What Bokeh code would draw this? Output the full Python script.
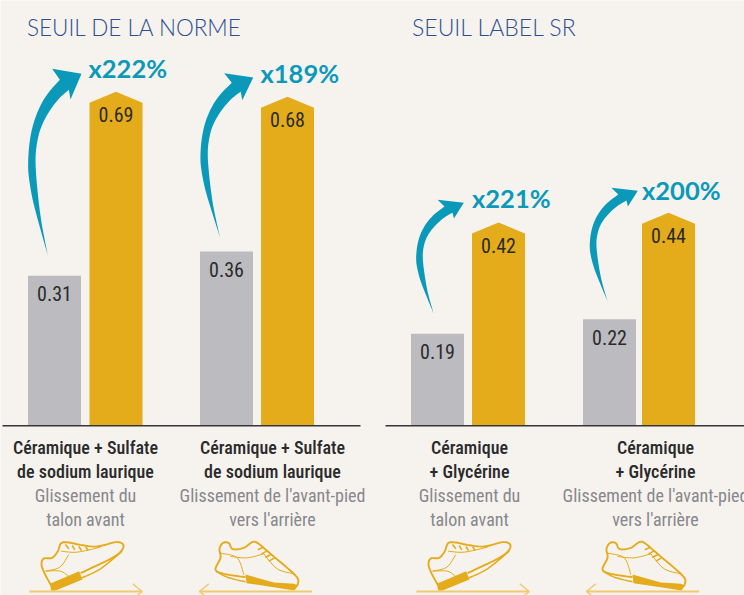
from bokeh.plotting import figure
from bokeh.models import Range1d
from bokeh.core.properties import value
from bokeh.embed import file_html
from bokeh.resources import INLINE
import numpy as np

# ---- data ----
titles = ["SEUIL DE LA NORME", "SEUIL LABEL SR"]
base_values = [0.31, 0.36, 0.19, 0.22]
treated_values = [0.69, 0.68, 0.42, 0.44]
gains = ["x222%", "x189%", "x221%", "x200%"]
label_top = [["Céramique + Sulfate", "de sodium laurique"], ["Céramique + Sulfate", "de sodium laurique"],
             ["Céramique", "+ Glycérine"], ["Céramique", "+ Glycérine"]]
label_sub = [["Glissement du", "talon avant"], ["Glissement de l'avant-pied", "vers l'arrière"],
             ["Glissement du", "talon avant"], ["Glissement de l'avant-pied", "vers l'arrière"]]

# ---- layout ----
W, H = 744, 595
BASE_PX, PX_PER_UNIT = 425.3, 484.0
BG, GOLD, GREY, TEAL, PALE = "#f6f3ef", "#e4ab1a", "#bcbbc0", "#0a99b9", "#f0ca70"
NARROW = "Roboto Condensed"
def yv(px):
    return (BASE_PX - np.asarray(px, dtype=float)) / PX_PER_UNIT

grey_left = [27.5, 199.5, 410.5, 582.5]
gold_left = [89, 260.5, 471.5, 641.5]
bar_w = 53
label_cx = [85, 272, 469, 655]
gain_pos = [(88, 67.5), (260, 72.5), (471.5, 197.5), (641.5, 189.5)]
arrow_box = [(27.7, 81, 68.3, 255), (200, 252.7, 72.7, 236.7), (415.7, 463.3, 199.3, 313.3), (589.3, 637.3, 187.3, 300.7)]

p = figure(width=W, height=H, x_range=Range1d(0, W), y_range=Range1d(float(yv(H)), float(yv(0))),
           output_backend="svg", toolbar_location=None, background_fill_color=BG, border_fill_color=BG,
           min_border=0, outline_line_color=None)
p.axis.visible = False
p.grid.visible = False

# bars
gx = np.array(grey_left)
p.quad(left=gx, right=gx + bar_w, bottom=0, top=base_values, fill_color=GREY, line_color=None)
xs, ys = [], []
for l, v in zip(gold_left, treated_values):
    sh = v - 11 / PX_PER_UNIT
    xs.append([l, l, l + bar_w / 2, l + bar_w, l + bar_w])
    ys.append([0, sh, v, sh, 0])
p.patches(xs, ys, fill_color=GOLD, line_color=None)

# baseline
p.segment([2, 385], [0, 0], [360, 744], [0, 0], line_color="#35353a", line_width=1.5)

# value labels
def labels(x, y, txt, size, color, font=NARROW, style="normal", align="center", yoff=0):
    p.text(x=x, y=y, text=txt, text_font=value(font), text_font_size=size, text_color=color,
           text_align=align, text_baseline="middle", text_font_style=style, y_offset=yoff)

labels(gx + bar_w / 2, base_values, [f"{v:.2f}" for v in base_values], "20px", "#2b2b2b", yoff=18)
labels(np.array(gold_left) + bar_w / 2, treated_values, [f"{v:.2f}" for v in treated_values], "20px", "#2b2b2b", yoff=23)

# titles
labels([26.5], yv([26.5]), titles[:1], "22.5px", "#2d4f90", font="Lato Light", align="left")
labels([411.5], yv([26.5]), titles[1:], "23px", "#2d4f90", font="Lato Light", align="left")

# gains
labels([g[0] for g in gain_pos], yv([g[1] for g in gain_pos]), gains, "25.5px", TEAL, font="Lato", style="bold", align="left")

# category text
for cx, top, sub in zip(label_cx, label_top, label_sub):
    labels([cx, cx], yv([446.5, 470.5]), top, "18px", "#2b2b2b", font="Roboto Condensed Medium")
    labels([cx, cx], yv([494.5, 518.5]), sub, "18px", "#87878c")

# curved arrows
def spline(pts, n=10):
    P = np.array([pts[0]] + pts + [pts[-1]], dtype=float)
    out = []
    for i in range(1, len(P) - 2):
        for t in np.linspace(0, 1, n, endpoint=False):
            a, b, c, d = P[i - 1], P[i], P[i + 1], P[i + 2]
            out.append(0.5 * (2 * b + (c - a) * t + (2 * a - 5 * b + 4 * c - d) * t ** 2 + (3 * b - a - 3 * c + d) * t ** 3))
    out.append(P[-2])
    return np.array(out)

outer = [(142, 765), (118, 680), (97, 600), (85, 530), (83, 480), (88, 420), (100, 365), (120, 315), (145, 275), (178, 238)]
inner = [(205, 268), (175, 295), (145, 335), (122, 380), (110, 425), (105, 480), (110, 560), (122, 660), (142, 765)]
tip = [(155, 205), (243, 220), (210, 297)]
shape = np.vstack([spline(outer), np.array(tip, dtype=float), spline(inner)])
sx = (shape[:, 0] - 83) / 160
sy = (shape[:, 1] - 205) / 560
for x0, x1, y0, y1 in arrow_box:
    p.patch(x0 + sx * (x1 - x0), yv(y0 + sy * (y1 - y0)), fill_color=TEAL, line_color=None)

# shoes (traced in 3x crop coordinates)
def mx(pts, dx):
    a = np.array(pts, dtype=float)
    return dx + a[:, 0] / 3, yv(420 + a[:, 1] / 3)

def sline(pts, dx, w=1.9, smooth=True, color=GOLD):
    a = spline(pts, 6) if smooth else pts
    x, y = mx(a, dx)
    p.line(x, y, line_color=color, line_width=w)

def spoly(pts, dx):
    x, y = mx(pts, dx)
    p.patch(x, y, fill_color=GOLD, line_color=None)

def shoe_forward(dx):
    sline([(152, 495), (132, 458), (123, 432), (130, 414), (155, 412), (172, 392), (182, 368), (205, 366),
           (240, 373), (290, 378), (345, 365), (368, 372), (362, 392), (330, 415), (240, 458)], dx)
    spoly([(148, 490), (236, 452), (246, 477), (165, 510), (152, 510)], dx)
    sline([(244, 472), (300, 445), (365, 392)], dx, 1.5)
    for a, b in [((195, 372), (205, 385)), ((215, 375), (223, 388)), ((235, 378), (243, 390)), ((255, 378), (263, 390))]:
        sline([a, b], dx, 1.6, False)
    sline([(135, 452), (178, 440), (205, 402)], dx, 1.0)
    sline([(135, 452), (180, 452), (207, 470)], dx, 1.0)
    sline([(182, 392), (230, 395), (300, 380)], dx, 1.0)
    sline([(87, 513), (425, 513)], dx, 1.8, False, PALE)
    sline([(397, 490), (425, 513), (397, 535)], dx, 1.5, False, PALE)

def shoe_back(dx):
    sline([(735, 470), (670, 460), (645, 447), (660, 412), (657, 385), (668, 367), (685, 368), (697, 386),
           (730, 382), (755, 365), (772, 368), (810, 400), (885, 465), (892, 490), (880, 503)], dx)
    sline([(648, 452), (680, 470), (735, 484)], dx, 1.5)
    spoly([(735, 462), (820, 486), (880, 490), (892, 495), (882, 510), (820, 500), (738, 488)], dx)
    for a, b in [((772, 388), (788, 380)), ((783, 400), (800, 391)), ((794, 411), (811, 402)), ((805, 422), (821, 413))]:
        sline([a, b], dx, 1.6, False)
    sline([(660, 398), (710, 412), (730, 462)], dx, 1.0)
    sline([(690, 408), (740, 412), (790, 400)], dx, 1.0)
    sline([(790, 400), (830, 445), (880, 460)], dx, 1.0)
    sline([(935, 513), (597, 513)], dx, 1.8, False, PALE)
    sline([(625, 490), (597, 513), (625, 535)], dx, 1.5, False, PALE)

shoe_forward(0)
shoe_back(0)
shoe_forward(387)
shoe_back(387)

open("out.html", "w").write(file_html(p, INLINE))
